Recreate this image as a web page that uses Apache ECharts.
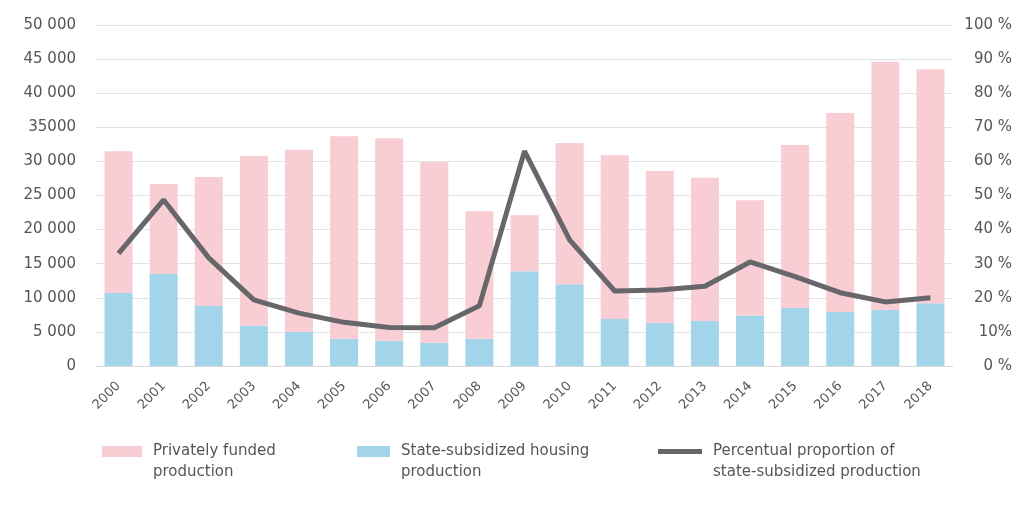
<!DOCTYPE html>
<html>
<head>
<meta charset="utf-8">
<script src="https://cdn.jsdelivr.net/npm/echarts@6/dist/echarts.min.js"></script>
<style>
  html, body { margin: 0; padding: 0; background: #ffffff; }
  #chart { width: 1016px; height: 506px; }
</style>
</head>
<body>
<div id="chart"></div>
<script>
// Housing production by year
const years = ['2000','2001','2002','2003','2004','2005','2006','2007','2008','2009',
               '2010','2011','2012','2013','2014','2015','2016','2017','2018'];

// State-subsidized housing production (dwellings)
const stateSubsidized = [10700, 13500, 8800, 5900, 5000, 4000, 3700, 3400, 4000, 13900,
                         12000, 6900, 6300, 6600, 7400, 8500, 7900, 8200, 9200];

// Privately funded production (dwellings), stacked on top of the subsidized part
const privatelyFunded = [20800, 13200, 18900, 24900, 26700, 29700, 29700, 26500, 18700, 8200,
                         20700, 24000, 22300, 21000, 16900, 23900, 29200, 36400, 34300];

// Share of state-subsidized production (%)
const subsidizedShare = [33.0, 48.7, 31.7, 19.4, 15.5, 12.8, 11.3, 11.2, 17.7, 63.0,
                         37.0, 22.0, 22.3, 23.4, 30.5, 26.2, 21.5, 18.8, 20.0];

// Tick labels as printed on the axes
const leftTickLabels = ['0', '5 000', '10 000', '15 000', '20 000', '25 000',
                        '30 000', '35000', '40 000', '45 000', '50 000'];
const rightTickLabels = ['0 %', '10%', '20 %', '30 %', '40 %', '50 %',
                         '60 %', '70 %', '80 %', '90 %', '100 %'];

const names = {
  priv: 'Privately funded production',
  state: 'State-subsidized housing production',
  share: 'Percentual proportion of state-subsidized production'
};
// Two-line legend captions; the leading empty line lifts the swatch
// to the height of the first caption line.
const legendText = {};
legendText[names.priv] = '\nPrivately funded\nproduction';
legendText[names.state] = '\nState-subsidized housing\nproduction';
legendText[names.share] = '\nPercentual proportion of\nstate-subsidized production';

const FONT = 'DejaVu Sans';
const TEXT = '#555559';
const PINK = '#f8cdd3';
const BLUE = '#a2d5e9';
const LINE = '#67666b';

const chart = echarts.init(document.getElementById('chart'), null, { renderer: 'canvas' });

function legendBlock(name, left, w, h) {
  return {
    data: [name],
    left: left,
    top: 420,
    padding: 0,
    orient: 'horizontal',
    icon: 'rect',
    itemWidth: w,
    itemHeight: h,
    itemGap: 0,
    selectedMode: false,
    formatter: n => legendText[n],
    textStyle: {
      fontFamily: FONT,
      fontSize: 15,
      color: TEXT,
      lineHeight: 21,
      padding: [0, 0, 0, 6]
    }
  };
}

chart.setOption({
  animation: false,
  backgroundColor: '#ffffff',
  textStyle: { fontFamily: FONT },
  grid: { left: 96, right: 63, top: 25, height: 341 },
  legend: [
    legendBlock(names.priv, 102, 40, 11),
    legendBlock(names.state, 357, 33, 11),
    legendBlock(names.share, 658, 44, 5)
  ],
  xAxis: {
    type: 'category',
    data: years,
    axisTick: { show: false },
    axisLine: { lineStyle: { color: '#dcdcdc', width: 1 } },
    axisLabel: {
      rotate: 45,
      margin: 18,
      fontSize: 13,
      color: TEXT,
      fontFamily: FONT
    }
  },
  yAxis: [
    {
      type: 'value',
      min: 0,
      max: 50000,
      interval: 5000,
      axisLine: { show: false },
      axisTick: { show: false },
      splitLine: { lineStyle: { color: '#e3e3e3', width: 1 } },
      axisLabel: {
        margin: 20,
        fontSize: 15,
        color: TEXT,
        fontFamily: FONT,
        formatter: v => leftTickLabels[Math.round(v / 5000)]
      }
    },
    {
      type: 'value',
      min: 0,
      max: 100,
      interval: 10,
      position: 'right',
      axisLine: { show: false },
      axisTick: { show: false },
      splitLine: { show: false },
      axisLabel: {
        margin: 59,
        align: 'right',
        fontSize: 15,
        color: TEXT,
        fontFamily: FONT,
        formatter: v => rightTickLabels[Math.round(v / 10)]
      }
    }
  ],
  series: [
    {
      name: names.state,
      type: 'bar',
      stack: 'prod',
      barWidth: 28,
      itemStyle: { color: BLUE },
      data: stateSubsidized
    },
    {
      name: names.priv,
      type: 'bar',
      stack: 'prod',
      barWidth: 28,
      itemStyle: { color: PINK },
      data: privatelyFunded
    },
    {
      name: names.share,
      type: 'line',
      yAxisIndex: 1,
      symbol: 'none',
      lineStyle: { color: LINE, width: 5 },
      itemStyle: { color: LINE },
      data: subsidizedShare
    }
  ]
});
</script>
</body>
</html>
